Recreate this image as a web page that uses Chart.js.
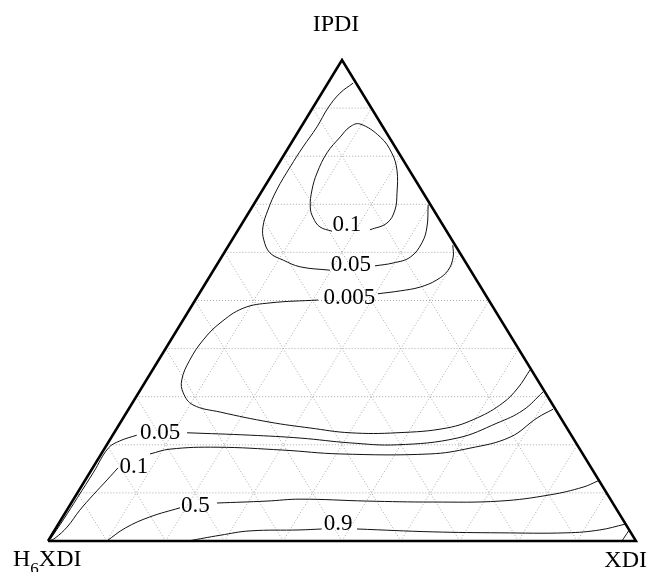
<!DOCTYPE html>
<html><head><meta charset="utf-8">
<script src="https://cdn.jsdelivr.net/npm/chart.js@4"></script>
<style>html,body{margin:0;padding:0;background:#fff}#wrap{width:649px;height:572px;position:relative}</style>
</head><body><div id="wrap"><canvas id="c"></canvas></div>
<script>
// Vertex components
const vertexTop = 'IPDI';
const vertexLeftMain = 'H', vertexLeftSub = '6', vertexLeftRest = 'XDI';
const vertexRight = 'XDI';
const gridSteps = [10,20,30,40,50,60,70,80,90];

// Contour points as [IPDI %, XDI %] (remainder = H6XDI %)
const c010Loop = [[64.7,22.4],[66.1,24.6],[68.8,24.6],[72.3,23.2],[77.1,20.8],[80.7,18.1],[84.0,14.5],[86.7,9.7],[86.1,8.3],[84.0,7.7],[80.7,7.1],[76.5,7.5],[73.0,8.4],[69.4,9.9],[67.2,11.5],[65.3,13.6],[64.4,16.1]];
const c005Upper = [[95.2,4.3],[93.1,3.1],[90.0,2.6],[86.1,2.7],[81.9,2.4],[77.8,2.3],[73.0,2.4],[68.8,3.0],[65.3,3.9],[62.6,5.4],[59.9,7.8],[58.4,10.8],[57.0,14.4],[56.3,19.8]];
const c005UpperRight = [[57.2,27.0],[57.8,29.8],[59.0,32.1],[62.0,32.6],[65.3,31.8],[69.9,29.7]];
const c0005Right = [[51.4,30.4],[52.0,33.9],[52.8,36.9],[54.3,39.0],[56.3,39.9],[59.0,39.4],[61.5,38.1]];
const c0005Loop = [[50.1,20.9],[49.5,13.0],[48.4,9.0],[45.3,6.6],[41.8,5.5],[37.6,5.3],[33.5,6.0],[30.8,7.6],[28.3,10.5],[26.8,15.9],[24.7,25.4],[23.5,32.8],[22.5,40.1],[22.5,48.1],[23.5,56.1],[25.6,60.2],[28.7,63.0],[31.8,64.0],[35.6,64.2]];
const c005LowerRight = [[22.5,12.4],[22.0,23.4],[21.4,32.2],[20.4,41.2],[20.0,49.4],[21.4,58.9],[24.5,64.1],[27.2,67.2],[31.0,68.7]];
const c005LowerLeft = [[22.0,4.1],[20.8,1.8],[19.3,0.6],[14.3,0.6],[9.1,0.5],[4.4,0.4],[0.4,0.2]];
const c010LowerRight = [[18.1,8.3],[19.1,11.2],[19.5,19.0],[18.9,30.5],[18.1,40.6],[18.1,55.9],[19.3,62.1],[21.6,67.8],[25.6,70.4],[27.4,72.2]];
const c010LowerLeft = [[15.2,4.3],[12.7,3.7],[9.6,2.9],[6.4,2.2],[2.9,1.8],[0.6,0.9],[0,0.2]];
const c050Right = [[7.9,24.8],[8.3,33.1],[8.7,38.5],[8.3,50.1],[8.1,61.4],[8.3,72.7],[9.6,80.6],[11.2,85.4],[12.5,87.3]];
const c050Left = [[6.9,19.0],[5.0,14.8],[2.7,11.8],[0,10.0]];
const c090Right = [[2.5,51.3],[1.9,64.5],[1.7,76.0],[1.7,87.4],[2.3,92.7],[3.5,96.4]];
const c090Left = [[2.5,45.3],[2.3,41.7],[2.1,33.3],[1.2,28.7],[0,23.8]];
const c099Corner = [[0,97.6],[2.1,97.7]];

const contourLabelText = ['0.1','0.05','0.005','0.05','0.1','0.5','0.9'];
const contourLabelAt = [[65.9,17.9],[57.6,22.7],[50.7,25.9],[22.7,7.7],[15.6,6.8],[7.5,21.3],[3.7,47.5]];

function toXY(p){ return {x: p[1] + p[0]/2, y: p[0]}; }

const datasets = [];
function line(pts, color, width, dash, order, tension){
  datasets.push({data: pts.map(toXY), showLine:true, pointRadius:0, borderColor:color, borderWidth:width,
    borderDash:dash, order:order, tension:tension, clip:false, fill:false});
}
gridSteps.forEach(k=>{
  line([[k,0],[k,100-k]], '#a8a8a8', 1, [1,2], 3, 0);
  line([[0,k],[100-k,k]], '#a8a8a8', 1, [1,2], 3, 0);
  line([[0,100-k],[100-k,0]], '#a8a8a8', 1, [1,2], 3, 0);
});
[c010Loop,c005Upper,c005UpperRight,c0005Right,c0005Loop,c005LowerRight,c005LowerLeft,c010LowerRight,c010LowerLeft,c050Right,c050Left,c090Right,c090Left,c099Corner]
  .forEach(c=>line(c, '#111', 1, [], 2, 0.4));
line([[0,0],[0,100],[100,0],[0,0]], '#000', 2.5, [], 1, 0);

const SERIF = '"Liberation Serif", "DejaVu Serif", serif';
const textPlugin = {
  id:'texts',
  afterDatasetsDraw(chart){
    const {ctx, scales:{x,y}} = chart;
    const px = p => { const q = toXY(p); return [x.getPixelForValue(q.x), y.getPixelForValue(q.y)]; };
    ctx.save();
    ctx.fillStyle = '#000';
    ctx.font = '23px ' + SERIF;
    ctx.textAlign = 'center';
    ctx.textBaseline = 'middle';
    contourLabelText.forEach((t,i)=>{ const [a,b] = px(contourLabelAt[i]); ctx.fillText(t, a, b+1); });
    ctx.textBaseline = 'alphabetic';
    ctx.font = '24px ' + SERIF;
    const top = px([100,0]), left = px([0,0]), right = px([0,100]);
    ctx.fillText(vertexTop, top[0]-6, top[1]-29);
    ctx.textAlign = 'right';
    ctx.fillText(vertexRight, right[0]+11, right[1]+26);
    ctx.textAlign = 'left';
    let lx = left[0]-35;
    ctx.fillText(vertexLeftMain, lx, left[1]+25);
    lx += ctx.measureText(vertexLeftMain).width;
    ctx.font = '17px ' + SERIF;
    ctx.fillText(vertexLeftSub, lx, left[1]+33);
    lx += ctx.measureText(vertexLeftSub).width;
    ctx.font = '24px ' + SERIF;
    ctx.fillText(vertexLeftRest, lx, left[1]+25);
    ctx.restore();
  }
};

new Chart(document.getElementById('c'), {
  type:'scatter',
  data:{datasets},
  options:{
    responsive:true, maintainAspectRatio:false, animation:false,
    layout:{padding:{left:48, right:13, top:60, bottom:31}},
    plugins:{legend:{display:false}, tooltip:{enabled:false}},
    scales:{
      x:{type:'linear', min:0, max:100, display:false},
      y:{type:'linear', min:0, max:100, display:false}
    }
  },
  plugins:[textPlugin]
});
</script></body></html>
